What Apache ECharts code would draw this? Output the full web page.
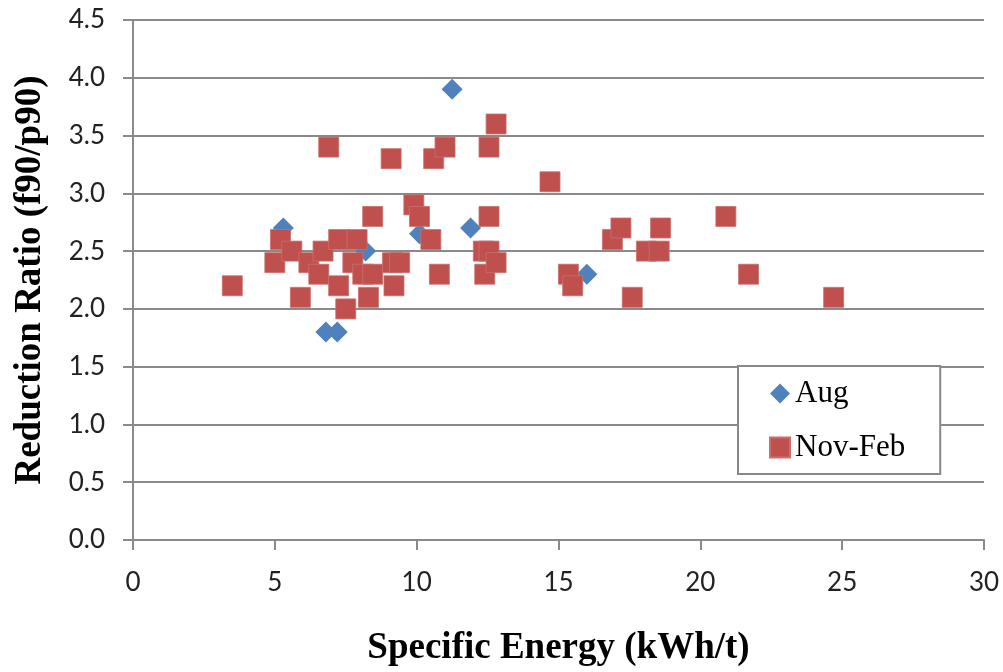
<!DOCTYPE html>
<html>
<head>
<meta charset="utf-8">
<script src="https://cdn.jsdelivr.net/npm/echarts@6/dist/echarts.min.js"></script>
<style>html,body{margin:0;padding:0;background:#fff;overflow:hidden}#c{width:1003px;height:672px}</style>
</head>
<body>
<div id="c"></div>
<script>
var xTicks = [0, 5, 10, 15, 20, 25, 30];
var yTicks = ['0.0','0.5','1.0','1.5','2.0','2.5','3.0','3.5','4.0','4.5'];

var augX = [5.3, 6.8, 7.2, 8.2, 10.1, 11.25, 11.9, 16.0];
var augY = [2.7, 1.8, 1.8, 2.5, 2.65, 3.9, 2.7, 2.3];

var novX = [3.5, 5.0, 5.2, 5.6, 5.9, 6.2, 6.55, 6.7, 6.9, 7.25, 7.25, 7.5, 7.75, 7.9, 8.1, 8.3, 8.45, 8.45,
            9.1, 9.15, 9.2, 9.4, 9.9, 10.1, 10.5, 10.6, 10.8, 11.0, 12.35, 12.4, 12.55, 12.55, 12.55, 12.8, 12.8,
            14.7, 15.35, 15.5, 16.9, 17.2, 17.6, 18.1, 18.55, 18.6, 20.9, 21.7, 24.7];
var novY = [2.2, 2.4, 2.6, 2.5, 2.1, 2.4, 2.3, 2.5, 3.4, 2.2, 2.6, 2.0, 2.4, 2.6, 2.3, 2.1, 2.3, 2.8,
            3.3, 2.4, 2.2, 2.4, 2.9, 2.8, 2.6, 3.3, 2.3, 3.4, 2.5, 2.3, 2.8, 3.4, 2.5, 2.4, 3.6,
            3.1, 2.3, 2.2, 2.6, 2.7, 2.1, 2.5, 2.5, 2.7, 2.8, 2.3, 2.1];

function zip(a, b) { return a.map(function (v, i) { return [v, b[i]]; }); }

var chart = echarts.init(document.getElementById('c'), null, {renderer: 'canvas'});
var axisGray = '#8a8a8a';
chart.setOption({
  animation: false,
  backgroundColor: '#fff',
  grid: {left: 133, right: 19, top: 20, bottom: 126, containLabel: false},
  xAxis: {
    type: 'value', min: xTicks[0], max: xTicks[xTicks.length - 1], interval: 5,
    name: 'Specific Energy (kWh/t)', nameLocation: 'middle', nameGap: 90,
    nameTextStyle: {fontFamily: 'Liberation Serif', fontWeight: 'bold', fontSize: 37, color: '#000'},
    axisLine: {show: true, lineStyle: {color: axisGray, width: 2}},
    axisTick: {show: true, length: 10, lineStyle: {color: axisGray, width: 2}},
    axisLabel: {margin: 30, fontFamily: 'Lato', fontSize: 26, color: '#222'},
    splitLine: {show: false}
  },
  yAxis: {
    type: 'value', min: 0, max: 4.5, interval: 0.5,
    name: 'Reduction Ratio (f90/p90)', nameLocation: 'middle', nameGap: 84,
    nameTextStyle: {fontFamily: 'Liberation Serif', fontWeight: 'bold', fontSize: 37, color: '#000'},
    axisLine: {show: true, lineStyle: {color: axisGray, width: 2}},
    axisTick: {show: true, length: 10, lineStyle: {color: axisGray, width: 2}},
    axisLabel: {margin: 28, fontFamily: 'Lato', fontSize: 26, color: '#222',
      formatter: function (v) { return yTicks[Math.round(v * 2)]; }},
    splitLine: {show: true, lineStyle: {color: axisGray, width: 2}}
  },
  legend: {
    orient: 'vertical', left: 738, top: 366,
    padding: [12, 35, 11, 31], itemGap: 23, itemWidth: 20, itemHeight: 20,
    backgroundColor: '#fff', borderColor: '#888', borderWidth: 2,
    textStyle: {fontFamily: 'Liberation Serif', fontSize: 31, color: '#000'},
    data: [{name: 'Aug', icon: 'diamond'}, {name: 'Nov-Feb', icon: 'rect'}]
  },
  series: [
    {name: 'Aug', type: 'scatter', symbol: 'diamond', symbolSize: 21,
     itemStyle: {color: '#4f81bd', opacity: 1}, data: zip(augX, augY), z: 2},
    {name: 'Nov-Feb', type: 'scatter', symbol: 'rect', symbolSize: 20,
     itemStyle: {color: '#c0504d', opacity: 1, borderColor: '#c9706d', borderWidth: 0.8}, data: zip(novX, novY), z: 3}
  ]
});
</script>
</body>
</html>
